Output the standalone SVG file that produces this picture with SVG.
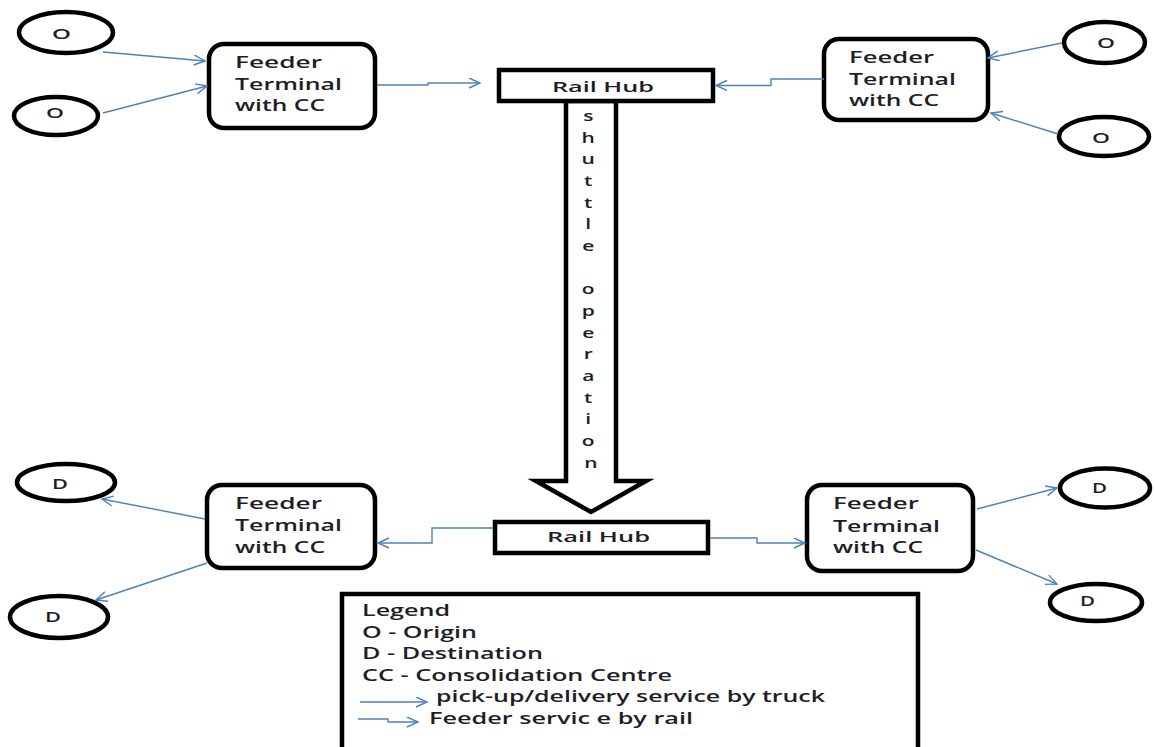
<svg xmlns="http://www.w3.org/2000/svg" width="1155" height="747" viewBox="0 0 1155 747">
<style>
.nd{fill:#fff;stroke:#000;stroke-width:4.5}
.t{font-family:"Open Sans","Liberation Sans",sans-serif;fill:#1e1e28;font-weight:600}
.f{font-size:16.5px}
.c{font-size:15px}
.lt{font-size:14px}
.lg{font-size:16px}
.cn{fill:none;stroke:#4F81BD;stroke-width:1.4;marker-end:url(#ah)}
</style>
<defs>
<marker id="ah" markerUnits="userSpaceOnUse" markerWidth="14" markerHeight="12" refX="12" refY="5.5" orient="auto">
<path d="M1,0.5 L12,5.5 L1,10.5" fill="none" stroke="#4F81BD" stroke-width="1.4"/>
</marker>
</defs>
<rect width="1155" height="747" fill="#fff"/>

<g id="shuttle">
<polygon class="nd" points="566,101 566,481 536,481 591,512 646,481 616,481 616,101"/>
<text class="t c" text-anchor="middle" transform="translate(591,0) scale(1.4,1)">
<tspan x="0" y="121">s</tspan>
<tspan x="0" y="142.7">h</tspan>
<tspan x="0" y="164.3">u</tspan>
<tspan x="0" y="186">t</tspan>
<tspan x="0" y="207.7">t</tspan>
<tspan x="0" y="229.3">l</tspan>
<tspan x="0" y="251">e</tspan> <tspan x="0" y="294.3">o</tspan>
<tspan x="0" y="316">p</tspan>
<tspan x="0" y="337.7">e</tspan>
<tspan x="0" y="359.3">r</tspan>
<tspan x="0" y="381">a</tspan>
<tspan x="0" y="402.7">t</tspan>
<tspan x="0" y="424.3">i</tspan>
<tspan x="0" y="446">o</tspan>
<tspan x="0" y="467.7">n</tspan>
</text>
</g>

<g id="hub-top">
<rect class="nd" x="499" y="70" width="214" height="31"/>
<text class="t c" x="552" y="92" textLength="102" lengthAdjust="spacingAndGlyphs">Rail Hub</text>
</g>
<g id="hub-bottom">
<rect class="nd" x="495" y="522" width="213" height="31"/>
<text class="t c" x="547" y="542" textLength="103" lengthAdjust="spacingAndGlyphs">Rail Hub</text>
</g>

<g id="feeder-tl">
<rect class="nd" x="209" y="44" width="166" height="84" rx="15"/>
<text class="t f" x="235" y="68" textLength="87" lengthAdjust="spacingAndGlyphs">Feeder</text>
<text class="t f" x="235" y="90" textLength="107" lengthAdjust="spacingAndGlyphs">Terminal</text>
<text class="t f" x="235" y="111" textLength="90" lengthAdjust="spacingAndGlyphs">with CC</text>
</g>
<g id="feeder-tr">
<rect class="nd" x="824" y="39" width="164" height="81" rx="15"/>
<text class="t f" x="849" y="63" textLength="85" lengthAdjust="spacingAndGlyphs">Feeder</text>
<text class="t f" x="849" y="85" textLength="107" lengthAdjust="spacingAndGlyphs">Terminal</text>
<text class="t f" x="849" y="106" textLength="90" lengthAdjust="spacingAndGlyphs">with CC</text>
</g>
<g id="feeder-bl">
<rect class="nd" x="207" y="485" width="168" height="83" rx="15"/>
<text class="t f" x="235" y="509" textLength="87" lengthAdjust="spacingAndGlyphs">Feeder</text>
<text class="t f" x="235" y="531" textLength="107" lengthAdjust="spacingAndGlyphs">Terminal</text>
<text class="t f" x="235" y="553" textLength="90" lengthAdjust="spacingAndGlyphs">with CC</text>
</g>
<g id="feeder-br">
<rect class="nd" x="807" y="485" width="166" height="86" rx="15"/>
<text class="t f" x="833" y="509" textLength="86" lengthAdjust="spacingAndGlyphs">Feeder</text>
<text class="t f" x="833" y="531.5" textLength="107" lengthAdjust="spacingAndGlyphs">Terminal</text>
<text class="t f" x="833" y="553" textLength="90" lengthAdjust="spacingAndGlyphs">with CC</text>
</g>

<g id="o-tl1"><ellipse class="nd" cx="66" cy="32.5" rx="47" ry="20.5"/><text class="t lt" x="52" y="39" textLength="19" lengthAdjust="spacingAndGlyphs">O</text></g>
<g id="o-tl2"><ellipse class="nd" cx="56" cy="116" rx="42" ry="19"/><text class="t lt" x="46" y="118" textLength="18" lengthAdjust="spacingAndGlyphs">O</text></g>
<g id="o-tr1"><ellipse class="nd" cx="1104.5" cy="42.5" rx="40.5" ry="20.5"/><text class="t lt" x="1097" y="48" textLength="18" lengthAdjust="spacingAndGlyphs">O</text></g>
<g id="o-tr2"><ellipse class="nd" cx="1104" cy="136.5" rx="45" ry="19.5"/><text class="t lt" x="1092" y="143" textLength="18" lengthAdjust="spacingAndGlyphs">O</text></g>
<g id="d-bl1"><ellipse class="nd" cx="66" cy="482.5" rx="49" ry="18.5"/><text class="t lt" x="52" y="489" textLength="16" lengthAdjust="spacingAndGlyphs">D</text></g>
<g id="d-bl2"><ellipse class="nd" cx="59" cy="617" rx="49" ry="21"/><text class="t lt" x="45" y="622" textLength="16" lengthAdjust="spacingAndGlyphs">D</text></g>
<g id="d-br1"><ellipse class="nd" cx="1105" cy="488" rx="45" ry="19.5"/><text class="t lt" x="1092" y="493" textLength="15" lengthAdjust="spacingAndGlyphs">D</text></g>
<g id="d-br2"><ellipse class="nd" cx="1096" cy="602.5" rx="46" ry="18.5"/><text class="t lt" x="1080" y="606" textLength="15" lengthAdjust="spacingAndGlyphs">D</text></g>

<g id="connectors">
<path class="cn" d="M103,52 L205,61"/>
<path class="cn" d="M103,113 L207,86"/>
<path class="cn" d="M377,85 H428 V83 H480"/>
<path class="cn" d="M824,79 H771 V85.5 H716"/>
<path class="cn" d="M1062,43 L988,58"/>
<path class="cn" d="M1058,134 L991,113"/>
<path class="cn" d="M493,528 H432 V543 H378"/>
<path class="cn" d="M710,538 H757 V543 H805"/>
<path class="cn" d="M205,519 L102,499"/>
<path class="cn" d="M207,563 L96,600"/>
<path class="cn" d="M977,509 L1057,488"/>
<path class="cn" d="M976,550 L1057,584"/>
</g>

<g id="legend">
<rect class="nd" x="342" y="594" width="576" height="170"/>
<text class="t lg" x="362" y="616" textLength="88" lengthAdjust="spacingAndGlyphs">Legend</text>
<text class="t lg" x="362" y="637.5" textLength="115" lengthAdjust="spacingAndGlyphs">O - Origin</text>
<text class="t lg" x="362" y="659" textLength="181" lengthAdjust="spacingAndGlyphs">D - Destination</text>
<text class="t lg" x="362" y="681" textLength="310" lengthAdjust="spacingAndGlyphs">CC - Consolidation Centre</text>
<path class="cn" d="M360,702 H427"/>
<text class="t lg" x="436" y="702" textLength="389" lengthAdjust="spacingAndGlyphs">pick-up/delivery service by truck</text>
<path class="cn" d="M358,719 H388 V722 H418"/>
<text class="t lg" x="429" y="724" textLength="264" lengthAdjust="spacingAndGlyphs">Feeder servic e by rail</text>
</g>
</svg>
